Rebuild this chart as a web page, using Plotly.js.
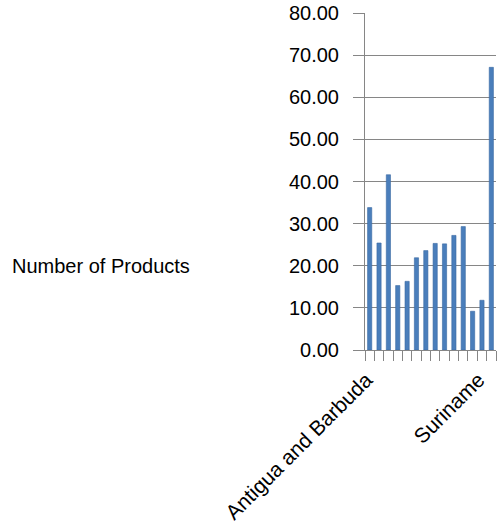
<!DOCTYPE html>
<html>
<head>
<meta charset="utf-8">
<script src="https://cdn.plot.ly/plotly-3.0.1.min.js"></script>
<style>
  html, body { margin: 0; padding: 0; background: #ffffff; }
  #chart { width: 497px; height: 531px; }
</style>
</head>
<body>
<div id="chart"></div>
<script>
// Countries on the category axis
const countries = [
  "Antigua and Barbuda", "Bahamas", "Barbados", "Belize", "Dominica",
  "Grenada", "Guyana", "Haiti", "Jamaica", "Saint Kitts and Nevis",
  "Saint Lucia", "Saint Vincent and the Grenadines", "Suriname",
  "Trinidad and Tobago"
];

// Number of products per country
const productCounts = [33.8, 25.4, 41.6, 15.3, 16.3, 21.9, 23.6, 25.3, 25.2, 27.2, 29.3, 9.2, 11.8, 67.1];

// Only every 12th category gets a visible label
const labelledCountries = ["Antigua and Barbuda", "Suriname"];

// Y axis ticks
const yTicks = [0, 10, 20, 30, 40, 50, 60, 70, 80];

// Trailing no-break spaces keep the slanted labels clear of the tick marks
const tickText = countries.map(c => labelledCountries.includes(c) ? c + "\u00a0\u00a0" : "");

const font = { family: "Liberation Sans, Arial, sans-serif", size: 20, color: "#000000" };
const xFont = { family: "Liberation Sans, Arial, sans-serif", size: 21, color: "#000000" };
const axisGrey = "#868686";

const trace = {
  type: "bar",
  x: countries,
  y: productCounts,
  marker: { color: "#4a7ebb", line: { color: "#3b6aa3", width: 0.6 } },
  hoverinfo: "x+y"
};

const layout = {
  width: 497,
  height: 531,
  margin: { l: 365, r: 1, t: 13, b: 181, pad: 0 },
  paper_bgcolor: "#ffffff",
  plot_bgcolor: "#ffffff",
  font: font,
  showlegend: false,
  bargap: 0.55,
  xaxis: {
    type: "category",
    tickmode: "array",
    tickvals: countries,
    ticktext: tickText,
    tickson: "boundaries",
    ticks: "outside",
    ticklen: 10,
    tickcolor: axisGrey,
    tickwidth: 1,
    tickangle: -45,
    ticklabelshift: 5,
    showgrid: false,
    showline: true,
    linecolor: axisGrey,
    linewidth: 1,
    tickfont: xFont,
    zeroline: false
  },
  yaxis: {
    range: [0, 80],
    tickmode: "array",
    tickvals: yTicks,
    tickformat: ".2f",
    ticks: "outside",
    ticklen: 11,
    tickcolor: axisGrey,
    tickwidth: 1,
    ticklabelstandoff: 10,
    showgrid: true,
    gridcolor: axisGrey,
    gridwidth: 1,
    showline: true,
    linecolor: axisGrey,
    linewidth: 1,
    zeroline: false,
    tickfont: font
  },
  annotations: [{
    text: "Number of Products",
    xref: "paper", yref: "paper",
    x: (10 - 365) / 131, y: (350 - 266) / 337,
    xanchor: "left", yanchor: "middle",
    showarrow: false,
    font: font
  }]
};

Plotly.newPlot("chart", [trace], layout, { displayModeBar: false, staticPlot: true });
</script>
</body>
</html>
